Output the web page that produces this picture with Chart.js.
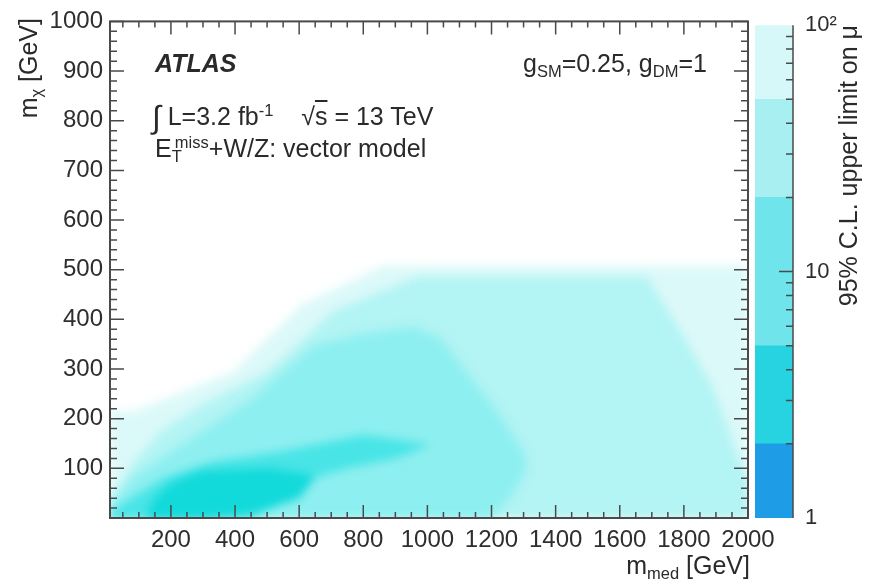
<!DOCTYPE html>
<html>
<head>
<meta charset="utf-8">
<script src="https://cdn.jsdelivr.net/npm/chart.js@4.4.1/dist/chart.umd.min.js"></script>
<style>
    html, body { margin: 0; padding: 0; background: #fff; }
    #wrap { position: relative; width: 870px; height: 579px; overflow: hidden; font-family: "Liberation Sans", Arial, sans-serif; color: #2a2a2a; }
    canvas { position: absolute; left: 0; top: 0; }
    .txt { position: absolute; white-space: nowrap; font-size: 25px; line-height: 25px; }
    .sb { font-size: 0.66em; position: relative; top: 0.32em; }
    .sp { font-size: 0.66em; position: relative; top: -0.55em; }
    .rot { transform-origin: 0 0; transform: rotate(-90deg); text-align: right; }
    .ov { text-decoration: overline; }
</style>
</head>
<body>
<div id="wrap">
    <canvas id="limits" width="870" height="579"></canvas>
    <canvas id="palette" width="870" height="579"></canvas>

    <div class="txt" style="left:155px; top:51px; font-weight:bold; font-style:italic;">ATLAS</div>
    <div class="txt" style="left:152px; top:102px;"><span style="font-size:32px; position:relative; top:3px;">∫</span> L=3.2 fb<span class="sp">-1</span>&nbsp;&nbsp;&nbsp; √<span class="ov">s</span> = 13 TeV</div>
    <div class="txt" style="left:155px; top:136px;">E<span class="sb">T</span><span class="sp" style="margin-left:-0.42em;">miss</span>+W/Z: vector model</div>
    <div class="txt" style="left:523px; top:51px;">g<span class="sb">SM</span>=0.25, g<span class="sb">DM</span>=1</div>

    <div class="txt" style="right:120px; top:553px;">m<span class="sb">med</span> [GeV]</div>
    <div class="txt rot" style="left:16px; top:318px; width:300px;">m<span class="sb">χ</span> [GeV]</div>
    <div class="txt rot" style="left:836px; top:425px; width:400px;">95% C.L. upper limit on μ</div>
</div>

<script>
// axis ticks
const mMedTicks = [200, 400, 600, 800, 1000, 1200, 1400, 1600, 1800, 2000];
const mChiTicks = [100, 200, 300, 400, 500, 600, 700, 800, 900, 1000];

// palette levels of the 95% CL upper limit on mu
const muLevels = [1, 2, 5, 20, 50, 100];
const muTicks = [1, 10, 100];

// limit contours in the (m_med, m_chi) plane, GeV, outermost first
const outerMed = [10, 85, 190, 396, 605, 864, 2000, 2000, 10];
const outerChi = [215, 215, 241, 295, 429, 508, 508, 0, 0];

const wideMed = [10, 35, 85, 169, 293, 502, 707, 969, 1686, 1789, 1892, 1944, 2000, 2000, 10];
const wideChi = [40, 60, 114, 175, 227, 295, 417, 486, 486, 377, 262, 167, 74, 0, 0];

const midMed = [10, 76, 231, 440, 646, 800, 958, 1041, 1113, 1219, 1300, 1312, 1260, 1200, 10];
const midChi = [20, 80, 147, 235, 348, 372, 385, 363, 302, 215, 134, 100, 40, 0, 0];

const bandMed = [10, 75, 178, 334, 543, 801, 1010, 900, 750, 640, 543, 450, 10];
const bandChi = [10, 40, 80, 114, 134, 167, 148, 120, 100, 80, 40, 0, 0];

const coreMed = [120, 150, 200, 294, 502, 650, 600, 450, 300, 120];
const coreChi = [0, 40, 70, 94, 100, 85, 40, 10, 0, 0];

const FONT = "'Liberation Sans', Arial, sans-serif";
const INK = '#2e2e2e';
const FRAME = '#4a4a4a';

const toPoints = (med, chi) => med.map((m, i) => ({ x: m, y: chi[i] }));

const region = (med, chi, colour) => ({
    data: toPoints(med, chi),
    showLine: true,
    fill: 'shape',
    backgroundColor: colour,
    borderWidth: 0,
    pointRadius: 0,
    tension: 0
});

// smooth contour transitions
const softEdges = {
    id: 'softEdges',
    beforeDatasetsDraw(chart) {
        chart.ctx.save();
        chart.ctx.filter = 'blur(5px)';
    },
    afterDatasetsDraw(chart) {
        chart.ctx.restore();
    }
};

// ROOT style frame with inward ticks on all four sides
const frameTicks = {
    id: 'frameTicks',
    afterDraw(chart) {
        const { ctx, chartArea: a, scales: { x, y } } = chart;
        ctx.save();
        ctx.strokeStyle = FRAME;
        ctx.lineWidth = 1.5;
        ctx.beginPath();
        for (let v = 50; v <= 2000; v += 50) {
            const px = x.getPixelForValue(v);
            const len = v % 200 === 0 ? 13 : 6;
            ctx.moveTo(px, a.bottom); ctx.lineTo(px, a.bottom - len);
            ctx.moveTo(px, a.top); ctx.lineTo(px, a.top + len);
        }
        for (let v = 20; v <= 1000; v += 20) {
            const py = y.getPixelForValue(v);
            const len = v % 100 === 0 ? 14 : 7;
            ctx.moveTo(a.left, py); ctx.lineTo(a.left + len, py);
            ctx.moveTo(a.right, py); ctx.lineTo(a.right - len, py);
        }
        ctx.stroke();
        ctx.lineWidth = 2;
        ctx.strokeRect(a.left, a.top, a.right - a.left, a.bottom - a.top);
        ctx.restore();
    }
};

new Chart(document.getElementById('limits'), {
    type: 'scatter',
    data: {
        datasets: [
            region(coreMed, coreChi, '#12d9da'),
            region(bandMed, bandChi, '#48e4e6'),
            region(midMed, midChi, '#8eeff0'),
            region(wideMed, wideChi, '#b3f4f4'),
            region(outerMed, outerChi, '#dcf9f9')
        ]
    },
    options: {
        responsive: false,
        animation: false,
        events: [],
        layout: { padding: { top: 20, right: 122, left: 0, bottom: 0 } },
        plugins: { legend: { display: false }, tooltip: { enabled: false } },
        scales: {
            x: {
                type: 'linear',
                min: 10,
                max: 2000,
                afterFit: s => { s.height = 61; },
                afterBuildTicks: s => { s.ticks = mMedTicks.map(v => ({ value: v })); },
                grid: { display: false, drawTicks: false },
                border: { display: false },
                ticks: { color: INK, font: { family: FONT, size: 24 }, padding: 8, maxRotation: 0, autoSkip: false, callback: v => String(v) }
            },
            y: {
                type: 'linear',
                min: 0,
                max: 1000,
                afterFit: s => { s.width = 110; },
                afterBuildTicks: s => { s.ticks = mChiTicks.map(v => ({ value: v })); },
                grid: { display: false, drawTicks: false },
                border: { display: false },
                ticks: { color: INK, font: { family: FONT, size: 24 }, padding: 7, autoSkip: false, callback: v => String(v) }
            }
        }
    },
    plugins: [softEdges, frameTicks]
});

// colour bar ticks on its right edge
const paletteTicks = {
    id: 'paletteTicks',
    afterDraw(chart) {
        const { ctx, chartArea: a, scales: { y } } = chart;
        ctx.save();
        ctx.strokeStyle = FRAME;
        ctx.lineWidth = 1.5;
        ctx.beginPath();
        ctx.moveTo(a.right, a.top); ctx.lineTo(a.right, a.bottom);
        for (let d = 1; d <= 10; d *= 10) {
            for (let k = 2; k <= 9; k++) {
                const py = y.getPixelForValue(k * d);
                ctx.moveTo(a.right, py); ctx.lineTo(a.right - 7, py);
            }
        }
        const p10 = y.getPixelForValue(10);
        ctx.moveTo(a.right, p10); ctx.lineTo(a.right - 14, p10);
        ctx.stroke();
        ctx.restore();
    }
};

const paletteColours = ['#1e9de6', '#27d3e1', '#6fe4eb', '#a8eff2', '#d6f8f9'];

new Chart(document.getElementById('palette'), {
    type: 'bar',
    data: {
        labels: ['mu'],
        datasets: muLevels.slice(0, -1).map((lo, i) => ({
            data: [[lo, muLevels[i + 1]]],
            backgroundColor: paletteColours[i],
            borderWidth: 0,
            grouped: false,
            barPercentage: 1,
            categoryPercentage: 1
        }))
    },
    options: {
        responsive: false,
        animation: false,
        events: [],
        layout: { padding: { top: 20, right: 0, left: 755, bottom: 61 } },
        plugins: { legend: { display: false }, tooltip: { enabled: false } },
        scales: {
            x: { display: false },
            y: {
                type: 'logarithmic',
                position: 'right',
                min: 1,
                max: 100,
                afterFit: s => { s.width = 77; },
                afterBuildTicks: s => { s.ticks = muTicks.map(v => ({ value: v })); },
                grid: { display: false, drawTicks: false },
                border: { display: false },
                ticks: {
                    color: INK,
                    font: { family: FONT, size: 22 },
                    padding: 12,
                    autoSkip: false,
                    callback: v => (v === 100 ? '10²' : String(v))
                }
            }
        }
    },
    plugins: [paletteTicks]
});
</script>
</body>
</html>
